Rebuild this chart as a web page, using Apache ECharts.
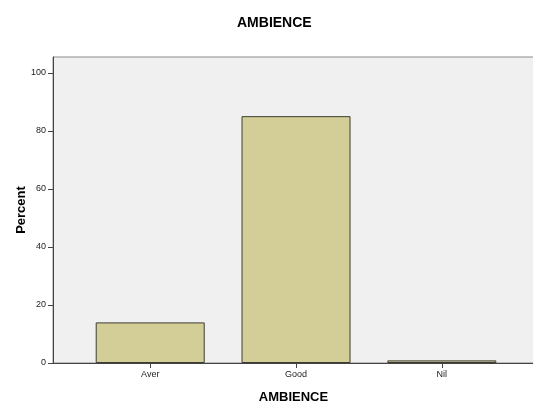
<!DOCTYPE html>
<html>
<head>
<meta charset="utf-8">
<script src="https://cdn.jsdelivr.net/npm/echarts@6/dist/echarts.min.js"></script>
<style>html,body{margin:0;padding:0;background:#fff}#c{width:533px;height:401px}</style>
</head>
<body>
<div id="c"></div>
<script>
var categories = ['Aver', 'Good', 'Nil'];
var percentValues = [14.0, 85.1, 0.9];
var yTickValues = [0, 20, 40, 60, 80, 100];
var xTickPositions = [0, 1, 2];

var chart = echarts.init(document.getElementById('c'), null, {renderer: 'canvas'});
var font = '"Liberation Sans", Arial, sans-serif';
chart.setOption({
  animation: false,
  title: {
    text: 'AMBIENCE', left: 232, top: 11,
    textStyle: {fontFamily: font, fontSize: 14, fontWeight: 'bold', color: '#000'}
  },
  grid: {
    left: 53, top: 57, right: -1, bottom: 38, show: true,
    outerBoundsMode: 'none', containLabel: false,
    backgroundColor: '#f0f0f0', borderColor: '#8a8a8a', borderWidth: 1
  },
  xAxis: {
    type: 'value', min: -0.6667, max: 2.632,
    name: 'AMBIENCE', nameLocation: 'middle', nameGap: 28,
    nameTextStyle: {fontFamily: font, fontSize: 13, fontWeight: 'bold', color: '#000'},
    axisLine: {show: true, onZero: false, lineStyle: {color: '#444', width: 1}},
    axisTick: {show: true, length: 5, customValues: xTickPositions, lineStyle: {color: '#444'}},
    axisLabel: {
      show: true, customValues: xTickPositions, margin: 7,
      fontFamily: font, fontSize: 9, color: '#222',
      formatter: function (v) { return categories[Math.round(v)] || ''; }
    },
    splitLine: {show: false}
  },
  yAxis: {
    type: 'value', min: 0, max: 105.5,
    name: 'Percent', nameLocation: 'middle', nameGap: 25, nameRotate: 90,
    nameMoveOverlap: false,
    nameTextStyle: {fontFamily: font, fontSize: 13, fontWeight: 'bold', color: '#000'},
    axisLine: {show: true, onZero: false, lineStyle: {color: '#444', width: 1}},
    axisTick: {show: true, length: 5, customValues: yTickValues, lineStyle: {color: '#444'}},
    axisLabel: {show: true, customValues: yTickValues, margin: 7, fontFamily: font, fontSize: 9, color: '#222'},
    splitLine: {show: false}
  },
  series: [{
    type: 'bar',
    barWidth: 109,
    data: percentValues.map(function (v, i) { return [xTickPositions[i], v]; }),
    itemStyle: {color: '#d3ce98', borderColor: '#3c3c30', borderWidth: 1}
  }]
});
</script>
</body>
</html>
